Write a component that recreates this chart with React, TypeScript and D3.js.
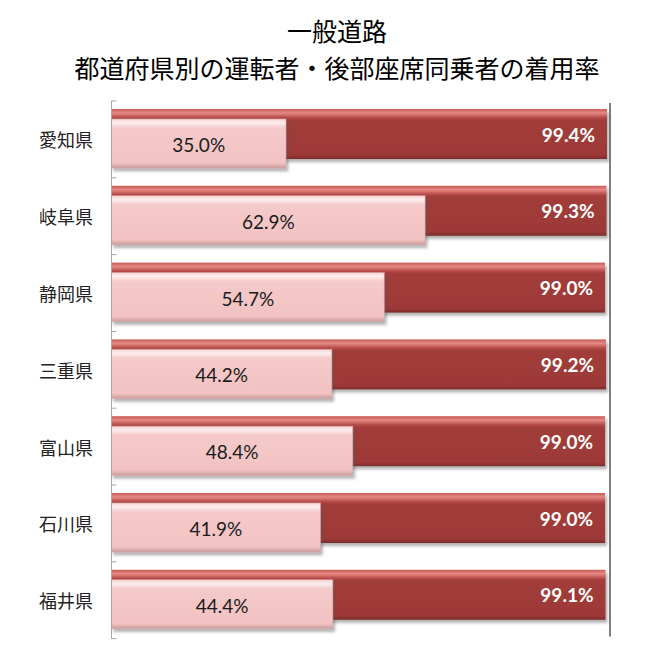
import * as d3 from 'd3'

const prefectures = ['愛知県', '岐阜県', '静岡県', '三重県', '富山県', '石川県', '福井県']
const driverRates = [99.4, 99.3, 99.0, 99.2, 99.0, 99.0, 99.1]
const rearRates = [35.0, 62.9, 54.7, 44.2, 48.4, 41.9, 44.4]
const titleLines = ['一般道路', '都道府県別の運転者・後部座席同乗者の着用率']

const W = 647
const H = 651

export default function App() {
  const x = d3.scaleLinear().domain([0, 100]).range([111.5, 610])
  const y = d3.scaleBand<string>().domain(prefectures).range([101, 638.6])
  const band = y.bandwidth()

  const redTop = 8
  const redH = 50
  const pinkTop = 18
  const pinkH = 49

  const fmt = (v: number) => d3.format('.1f')(v) + '%'
  const numFont = 'Lato, "Open Sans", sans-serif'
  const jpFont = '"Noto Sans CJK JP", "Noto Sans", sans-serif'

  // band boundaries for the small ticks
  const bounds = prefectures.map(p => y(p) as number).concat([y.range()[1]])

  return (
    <svg width={W} height={H} style={{ position: 'absolute', left: 0, top: 0, background: '#fff' }}>
      <defs>
        <linearGradient id="redGrad" x1="0" y1="0" x2="0" y2="1">
          <stop offset="0%" stopColor="#c85a56" />
          <stop offset="8%" stopColor="#e58985" />
          <stop offset="17%" stopColor="#b74c49" />
          <stop offset="22%" stopColor="#a13c3a" />
          <stop offset="92%" stopColor="#9d3937" />
          <stop offset="100%" stopColor="#7d2b2a" />
        </linearGradient>
        <linearGradient id="pinkGrad" x1="0" y1="0" x2="0" y2="1">
          <stop offset="0%" stopColor="#f6d4d4" />
          <stop offset="8%" stopColor="#fdeeee" />
          <stop offset="18%" stopColor="#f5caca" />
          <stop offset="90%" stopColor="#f2c2c2" />
          <stop offset="100%" stopColor="#c99c9c" />
        </linearGradient>
        <filter id="shadow" x="-5%" y="-20%" width="115%" height="160%">
          <feDropShadow dx="2" dy="3" stdDeviation="1.5" floodColor="#555" floodOpacity="0.45" />
        </filter>
      </defs>

      {/* Title */}
      {titleLines.map((t, i) => (
        <text
          key={t}
          x={337}
          y={i === 0 ? 30 : 67}
          textAnchor="middle"
          dominantBaseline="central"
          fontFamily={jpFont}
          fontSize={25}
          fill="#000"
        >
          {t}
        </text>
      ))}

      {/* Right border */}
      <line x1={x(100)} x2={x(100)} y1={103} y2={y.range()[1] - 2} stroke="#000" strokeWidth={1} />

      {/* Driver bars */}
      {prefectures.map((p, i) => (
        <g key={'r' + p} filter="url(#shadow)">
          <rect
            x={x(0)}
            y={(y(p) as number) + redTop}
            width={x(driverRates[i]) - x(0)}
            height={redH}
            fill="url(#redGrad)"
          />
        </g>
      ))}

      {/* Rear-seat bars */}
      {prefectures.map((p, i) => (
        <g key={'p' + p} filter="url(#shadow)">
          <rect
            x={x(0)}
            y={(y(p) as number) + pinkTop}
            width={x(rearRates[i]) - x(0)}
            height={pinkH}
            fill="url(#pinkGrad)"
            stroke="#d9a9a9"
            strokeWidth={0.6}
          />
        </g>
      ))}

      {/* Driver labels */}
      {prefectures.map((p, i) => (
        <text
          key={'rl' + p}
          x={x(driverRates[i]) - 12}
          y={(y(p) as number) + redTop + redH / 2}
          textAnchor="end"
          dominantBaseline="central"
          fontFamily={numFont}
          fontWeight="bold"
          fontSize={19}
          fill="#fff"
        >
          {fmt(driverRates[i])}
        </text>
      ))}

      {/* Rear-seat labels */}
      {prefectures.map((p, i) => (
        <text
          key={'pl' + p}
          x={(x(0) + x(rearRates[i])) / 2}
          y={(y(p) as number) + pinkTop + pinkH / 2 + 1}
          textAnchor="middle"
          dominantBaseline="central"
          fontFamily={numFont}
          fontSize={19}
          fill="#1a1a1a"
        >
          {fmt(rearRates[i])}
        </text>
      ))}

      {/* Category axis */}
      <line x1={x(0)} x2={x(0)} y1={y.range()[0]} y2={y.range()[1]} stroke="#a6a6a6" strokeWidth={1} />
      {bounds.map((b, i) => (
        <line key={'t' + i} x1={x(0)} x2={x(0) + 5} y1={b} y2={b} stroke="#a6a6a6" strokeWidth={1} />
      ))}
      {prefectures.map(p => (
        <text
          key={'c' + p}
          x={93}
          y={(y(p) as number) + band / 2}
          textAnchor="end"
          dominantBaseline="central"
          fontFamily={jpFont}
          fontSize={18}
          fill="#222"
        >
          {p}
        </text>
      ))}
    </svg>
  )
}
